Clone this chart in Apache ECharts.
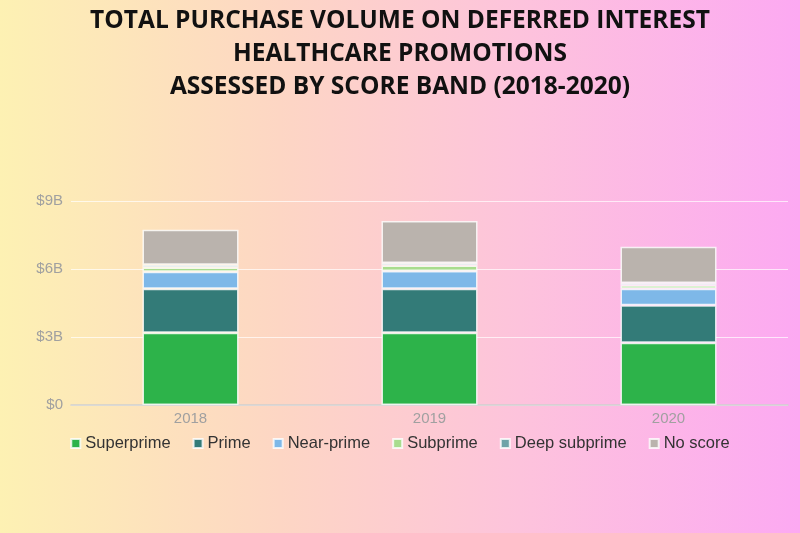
<!DOCTYPE html>
<html><head><meta charset="utf-8">
<script src="https://cdn.jsdelivr.net/npm/echarts@6/dist/echarts.min.js"></script>
<style>html,body{margin:0;padding:0;}body{width:800px;height:533px;background:linear-gradient(90deg,#fdf1b3 0%,#fdd6c4 35%,#fdc3dc 65%,#fca9f2 100%);}#c{width:800px;height:533px;}</style>
</head><body><div id="c"></div>
<script>
const categories = ['2018','2019','2020'];
const superprime = [3.19, 3.19, 2.75];
const prime = [1.94, 1.94, 1.65];
const nearPrime = [0.75, 0.78, 0.73];
const subprime = [0.19, 0.24, 0.15];
const deepSubprime = [0.12, 0.12, 0.1];
const noScore = [1.54, 1.85, 1.6];
const yTicks = ['$0','$3B','$6B','$9B'];
const names = ['Superprime','Prime','Near-prime','Subprime','Deep subprime','No score'];
const colors = ['#2db34a','#337b78','#7eb8e8','#a9dc8e','#6fa3a8','#bab3ad'];
const data = [superprime, prime, nearPrime, subprime, deepSubprime, noScore];
const chart = echarts.init(document.getElementById('c'));
chart.setOption({
  backgroundColor:'transparent',
  title:{text:'TOTAL PURCHASE VOLUME ON DEFERRED INTEREST\nHEALTHCARE PROMOTIONS\nASSESSED BY SCORE BAND (2018-2020)',left:'center',top:0,
    textStyle:{fontFamily:'Open Sans',fontWeight:'bold',fontSize:24.5,lineHeight:33,color:'#111'}},
  legend:{bottom:76,left:'center',itemWidth:9,itemHeight:9,itemGap:22,icon:'rect',
    textStyle:{fontFamily:'Liberation Sans',fontSize:16.5,color:'#333'}},
  grid:{left:71,right:12,top:201,bottom:128},
  xAxis:{type:'category',data:categories,axisTick:{show:false},axisLine:{lineStyle:{color:'#d0d0d0',width:1.5}},
    axisLabel:{color:'#a0a0a0',fontSize:15,fontFamily:'Liberation Sans',margin:6}},
  yAxis:{type:'value',min:0,max:9,interval:3,
    axisLabel:{color:'#a0a0a0',fontSize:15,fontFamily:'Liberation Sans',formatter:(v)=>yTicks[v/3]},
    splitLine:{lineStyle:{color:'rgba(255,255,255,0.7)',width:1}}},
  series:names.map((n,i)=>({name:n,type:'bar',stack:'s',barWidth:96,data:data[i],
    itemStyle:{color:colors[i],borderColor:'rgba(255,255,255,0.8)',borderWidth:1.5}}))
});
</script></body></html>
